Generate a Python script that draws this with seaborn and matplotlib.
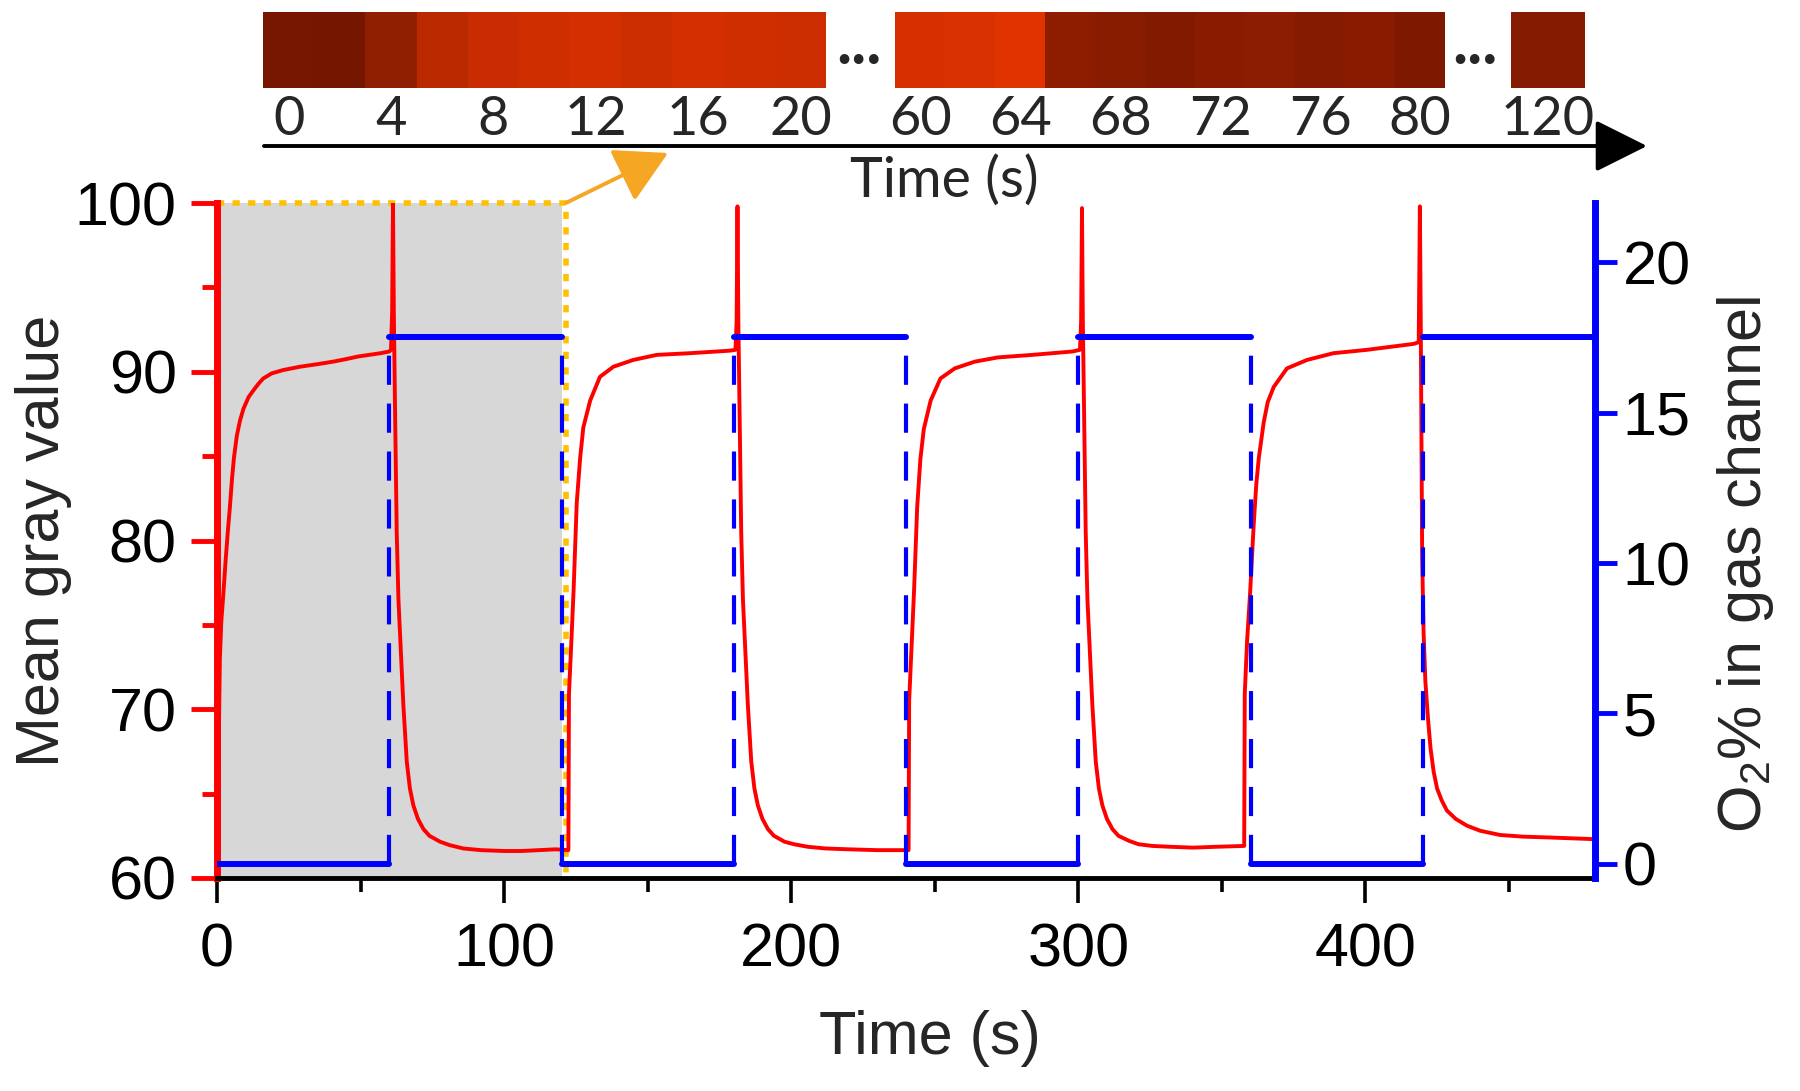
import matplotlib

matplotlib.use("Agg")
import matplotlib.pyplot as plt
import numpy as np
import seaborn as sns
from matplotlib.colors import LinearSegmentedColormap
from matplotlib.ticker import MultipleLocator, NullLocator

# mean gray value trace (left axis)
trace_t = [
    0, 0.3, 0.6, 1.0, 1.5, 2.2, 3.0, 3.8, 4.5, 5.2, 5.9, 6.9, 8.0, 9.2, 11.0, 12.7, 14.5, 16.1,
    19.0, 23.0, 29.0, 35.0, 40.5, 45.0, 49.0, 53.0, 57.0, 60.0,
    60.6, 61.0, 61.3, 61.6, 62.0, 62.6, 63.2, 63.8, 64.9, 66.1, 67.2, 68.4, 70.0, 71.9, 74.0,
    77.7, 81.0, 85.8, 92.0, 100.0, 106.0, 112.0, 118.0, 122.4,
    122.6, 123.3, 124.2, 125.3, 126.5, 127.6, 130.0, 133.4, 138.1, 145.0, 153.2, 164.8, 178.7, 180.6,
    181.0, 181.3, 181.6, 182.0, 182.6, 183.2, 183.8, 184.9, 186.1, 187.2, 188.4, 190.0, 191.9, 194.0,
    197.7, 201.0, 205.8, 212.0, 220.0, 230.0, 240.9,
    241.1, 241.9, 242.8, 243.9, 245.0, 246.2, 248.6, 252.0, 257.0, 264.0, 272.0, 284.0, 298.0, 300.6,
    301.0, 301.3, 301.6, 302.0, 302.6, 303.2, 303.8, 304.9, 306.1, 307.2, 308.4, 310.0, 311.9, 314.0,
    317.7, 321.0, 325.8, 332.0, 340.0, 348.0, 357.8,
    358.0, 358.8, 359.9, 361.1, 362.0, 362.9, 364.6, 366.0, 368.1, 372.7, 379.7, 388.9, 400.6, 410.0,
    416.8, 418.6,
    419.0, 419.3, 419.8, 420.3, 420.9, 421.8, 422.7, 423.8, 425.0, 426.6, 428.4, 431.5, 435.4, 440.0,
    446.9, 455.0, 464.3, 472.0, 480.0,
]
trace_gray = [
    61.0, 62.5, 68.0, 73.0, 75.2, 76.8, 78.8, 80.6, 82.0, 83.6, 84.9, 86.2, 87.1, 87.8, 88.5, 88.9, 89.3, 89.6,
    89.9, 90.1, 90.3, 90.45, 90.6, 90.75, 90.9, 91.0, 91.1, 91.2,
    91.3, 93.5, 100.0, 93.5, 88.0, 80.5, 76.5, 74.3, 70.3, 66.9, 65.3, 64.3, 63.5, 62.9, 62.5,
    62.15, 61.95, 61.75, 61.65, 61.6, 61.6, 61.65, 61.7, 61.65,
    70.9, 73.5, 77.0, 82.2, 84.9, 86.7, 88.3, 89.7, 90.3, 90.7, 91.0, 91.1, 91.25, 91.3,
    93.0, 99.8, 93.0, 88.0, 80.5, 76.5, 74.3, 70.3, 66.9, 65.3, 64.3, 63.5, 62.9, 62.5,
    62.15, 62.0, 61.85, 61.75, 61.7, 61.65, 61.65,
    70.5, 73.5, 77.0, 82.0, 84.8, 86.6, 88.3, 89.6, 90.2, 90.6, 90.85, 91.0, 91.2, 91.3,
    93.0, 99.7, 93.0, 88.0, 80.5, 76.5, 74.3, 70.3, 66.9, 65.3, 64.3, 63.5, 62.9, 62.5,
    62.2, 62.0, 61.9, 61.85, 61.8, 61.85, 61.9,
    70.9, 74.0, 77.0, 80.9, 83.3, 84.9, 87.0, 88.2, 89.1, 90.2, 90.7, 91.1, 91.3, 91.5,
    91.65, 91.75,
    99.8, 93.0, 79.0, 74.5, 71.7, 69.5, 67.7, 66.3, 65.3, 64.6, 64.0, 63.5, 63.1, 62.8,
    62.55, 62.45, 62.4, 62.35, 62.3,
]

# O2 step program (right axis)
o2_switch = [0, 60, 120, 180, 240, 300, 360, 420, 480]
o2_level = [0, 17.5, 0, 17.5, 0, 17.5, 0, 17.5]

# snapshot strip: frame time and relative brightness
strip1_t = [0, 2, 4, 6, 8, 10, 12, 14, 16, 18, 20]
strip1_val = [0.05, 0.03, 0.27, 0.52, 0.64, 0.7, 0.74, 0.68, 0.74, 0.7, 0.68]
strip2_t = [60, 62, 64, 66, 68, 70, 72, 74, 76, 78, 80]
strip2_val = [0.78, 0.83, 0.92, 0.26, 0.2, 0.16, 0.22, 0.25, 0.18, 0.22, 0.12]
strip3_t = [120]
strip3_val = [0.18]

shade_end = 120

sns.set_style("ticks")
plt.rcParams["font.family"] = ["Liberation Sans", "DejaVu Sans"]
plt.rcParams["mathtext.fontset"] = "custom"
plt.rcParams["mathtext.rm"] = "Liberation Sans"
plt.rcParams["mathtext.default"] = "regular"

RED = "#ff0000"
BLUE = "#0000ff"
GOLD = "#ffc000"
ORANGE = "#f5a623"
W, H = 1800, 1091

fig = plt.figure(figsize=(18, 10.91), dpi=100)


def px(x0, y0, x1, y1):
    # pixel box (top-left origin) -> figure rect
    return [x0 / W, 1 - y1 / H, (x1 - x0) / W, (y1 - y0) / H]


ax = fig.add_axes(px(217, 203, 1595, 878))
ax2 = ax.twinx()

ax.axvspan(0, shade_end, color="#d7d7d7", lw=0, zorder=0)
ax.plot([0, shade_end + 1.5, shade_end + 1.5], [100, 100, 60], color=GOLD, lw=4,
        ls=(0, (1.3, 1.5)), clip_on=False, zorder=1.5)
sns.lineplot(x=trace_t, y=trace_gray, ax=ax, color=RED, lw=2.8, estimator=None, sort=False, zorder=3)

ax2.hlines(o2_level, o2_switch[:-1], o2_switch[1:], color=BLUE, lw=4.3, capstyle="round", zorder=3)
for t, lo, hi in zip(o2_switch[1:-1], o2_level[:-1], o2_level[1:]):
    ax2.vlines(t, min(lo, hi), max(lo, hi), color=BLUE, lw=3, linestyles=[(0, (7, 4.5))], zorder=3)

ax.set_xlim(0, 480)
ax.set_ylim(60, 100)
ax2.set_ylim(-0.47, 21.97)
ax.xaxis.set_major_locator(MultipleLocator(100))
ax.xaxis.set_minor_locator(MultipleLocator(50))
ax.yaxis.set_major_locator(MultipleLocator(10))
ax.yaxis.set_minor_locator(MultipleLocator(5))
ax2.yaxis.set_major_locator(MultipleLocator(5))
ax2.yaxis.set_minor_locator(NullLocator())

for s in ["top", "right"]:
    ax.spines[s].set_visible(False)
for s in ["top", "left", "bottom"]:
    ax2.spines[s].set_visible(False)
ax.spines["left"].set_color(RED)
ax.spines["left"].set_linewidth(5)
ax.spines["bottom"].set_color("black")
ax.spines["bottom"].set_linewidth(3.5)
ax2.spines["right"].set_color(BLUE)
ax2.spines["right"].set_linewidth(5)

ax.tick_params(axis="y", which="major", colors=RED, labelcolor="black", length=19, width=3.5, labelsize=44, pad=10)
ax.tick_params(axis="y", which="minor", colors=RED, length=11, width=3.5)
ax.tick_params(axis="x", which="major", colors="black", length=18, width=2.6, labelsize=44, pad=14)
ax.tick_params(axis="x", which="minor", colors="black", length=10, width=2.6)
ax2.tick_params(axis="y", colors=BLUE, labelcolor="black", length=16, width=3.5, labelsize=44, pad=4)

ax.set_xlabel("Time (s)", fontsize=44)
ax.xaxis.set_label_coords(0.517, -0.195)
ax.set_ylabel("Mean gray value", fontsize=44)
ax.yaxis.set_label_coords(-0.105, 0.5)
ax2.set_ylabel("O$_2$% in gas channel", fontsize=44)
ax2.yaxis.set_label_coords(1.087, 0.465)

# snapshot strips
heat_cmap = LinearSegmentedColormap.from_list(
    "snap", ["#721600", "#8c1d00", "#b82800", "#d42f00", "#e63500"])
strips = [(strip1_t, strip1_val, 263, 826), (strip2_t, strip2_val, 895, 1445), (strip3_t, strip3_val, 1511, 1585)]
for times, vals, x0, x1 in strips:
    hx = fig.add_axes(px(x0, 12, x1, 88))
    labels = [str(t) if t % 4 == 0 else "" for t in times]
    sns.heatmap(np.array([vals]), ax=hx, cmap=heat_cmap, vmin=0, vmax=1, cbar=False,
                xticklabels=labels, yticklabels=False)
    hx.tick_params(axis="x", length=0, pad=5, labelsize=39, labelrotation=0)
    for lbl in hx.get_xticklabels():
        lbl.set_fontfamily("Lato")

for xd in [859, 1475]:
    fig.text(xd / W, 1 - 64 / H, "...", ha="center", va="baseline", fontsize=46,
             fontweight="bold", family="Lato")

ax.annotate("", xy=(1647 / W, 1 - 146 / H), xycoords="figure fraction",
            xytext=(264 / W, 1 - 146 / H), textcoords="figure fraction",
            arrowprops=dict(arrowstyle="-|>,head_length=0.9,head_width=0.45", mutation_scale=36,
                            lw=2.8, color="black", shrinkA=0, shrinkB=0),
            annotation_clip=False)
fig.text(944 / W, 1 - 181 / H, "Time (s)", ha="center", va="center", fontsize=40, family="Lato")

ax.annotate("", xy=(668 / W, 1 - 153 / H), xycoords="figure fraction",
            xytext=(shade_end + 1.5, 100), textcoords="data",
            arrowprops=dict(arrowstyle="-|>,head_length=0.9,head_width=0.5", mutation_scale=36,
                            lw=2.8, color=ORANGE, shrinkA=0, shrinkB=0),
            annotation_clip=False)

fig.savefig("out.png", dpi=100)
plt.close(fig)
